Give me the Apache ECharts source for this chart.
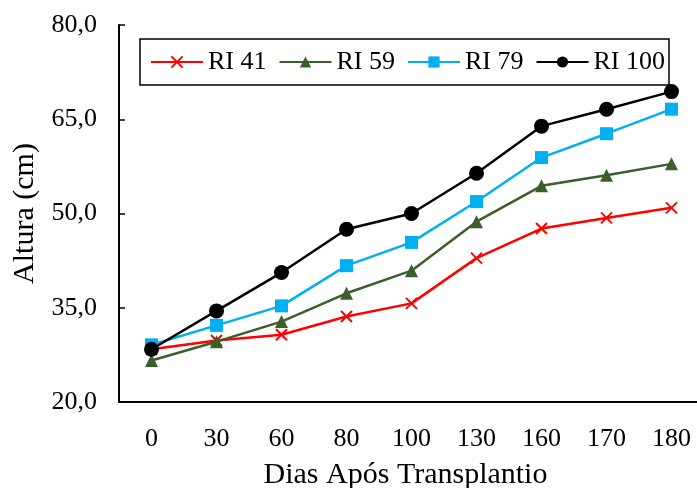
<!DOCTYPE html>
<html><head><meta charset="utf-8">
<script src="https://cdn.jsdelivr.net/npm/echarts@6/dist/echarts.min.js"></script>
<style>html,body{margin:0;padding:0;background:#fff}#c{width:697px;height:488px}</style>
</head><body><div id="c"></div>
<script>
const categories = ['0','30','60','80','100','130','160','170','180'];
const ri41 = [28.4, 29.8, 30.7, 33.6, 35.7, 42.9, 47.6, 49.3, 50.9];
const ri59 = [26.6, 29.6, 32.8, 37.3, 40.9, 48.7, 54.4, 56.1, 57.9];
const ri79 = [29.1, 32.2, 35.3, 41.7, 45.4, 51.9, 58.9, 62.7, 66.6];
const ri100 = [28.4, 34.5, 40.6, 47.5, 50.0, 56.4, 63.9, 66.6, 69.4];
const yTicks = [20, 35, 50, 65, 80];

const font = 'Liberation Serif';
const chart = echarts.init(document.getElementById('c'));
const mk = (name, data, color, symbol, size, extra) => Object.assign({
  name, type: 'line', data, symbol, symbolSize: size,
  lineStyle: {color, width: 2.5},
  itemStyle: {color, borderColor: color, borderWidth: 0},
  emphasis: {disabled: true}, animation: false
}, extra || {});
chart.setOption({
  animation: false,
  grid: {left: 119, right: -7, top: 25, bottom: 86, containLabel: false, outerBoundsMode: 'none'},
  legend: {
    top: 39, left: 140,
    borderColor: '#000', borderWidth: 1.5, padding: [10, 4, 10, 10],
    itemWidth: 52, itemHeight: 14, itemGap: 12,
    textStyle: {fontFamily: font, fontSize: 26, color: '#000'},
    data: ['RI 41', 'RI 59', 'RI 79', 'RI 100']
  },
  xAxis: {
    type: 'category', data: categories, boundaryGap: true,
    name: 'Dias Após Transplantio', nameLocation: 'middle', nameGap: 58,
    nameTextStyle: {fontFamily: font, fontSize: 30, color: '#000', padding: [0, 12, 0, 0]},
    axisLine: {lineStyle: {color: '#000', width: 2}},
    axisTick: {inside: true, length: 6, lineStyle: {color: '#000', width: 1.5}},
    axisLabel: {fontFamily: font, fontSize: 26, color: '#000', margin: 24},
    splitLine: {show: false}
  },
  yAxis: {
    type: 'value', min: 20, max: 80, interval: 15,
    name: 'Altura (cm)', nameLocation: 'middle', nameGap: 79,
    nameTextStyle: {fontFamily: font, fontSize: 30, color: '#000'},
    axisLine: {show: true, lineStyle: {color: '#000', width: 2}},
    axisTick: {show: true, inside: true, length: 6, lineStyle: {color: '#000', width: 1.5}},
    axisLabel: {fontFamily: font, fontSize: 26, color: '#000', margin: 22,
      formatter: v => v.toFixed(1).replace('.', ',')},
    splitLine: {show: false}
  },
  series: [
    mk('RI 41', ri41, '#FF0000', 'path://M0,0L10,10M10,0L0,10', 11, {itemStyle: {color: 'none', borderColor: '#FF0000', borderWidth: 2}}),
    mk('RI 59', ri59, '#3B5E2B', 'triangle', 13),
    mk('RI 79', ri79, '#00B0F0', 'rect', 13),
    mk('RI 100', ri100, '#000000', 'circle', 15)
  ]
});
</script></body></html>
